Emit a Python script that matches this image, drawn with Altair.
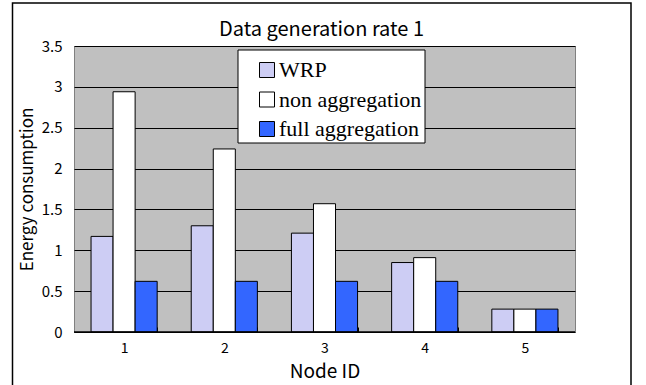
import altair as alt
import pandas as pd

# Energy consumption per node for each scheme
nodes = ["1", "2", "3", "4", "5"]
series = ["WRP", "non aggregation", "full aggregation"]
wrp = [1.17, 1.30, 1.21, 0.85, 0.28]
non_agg = [2.94, 2.24, 1.57, 0.91, 0.28]
full_agg = [0.62, 0.62, 0.62, 0.62, 0.28]
colors = ["#CDCDF4", "#FFFFFF", "#3366FF"]
y_ticks = [0, 0.5, 1, 1.5, 2, 2.5, 3, 3.5]

rows = []
for name, vals in zip(series, [wrp, non_agg, full_agg]):
    for n, v in zip(nodes, vals):
        rows.append({"node": n, "series": name, "energy": v})
df = pd.DataFrame(rows)
one = pd.DataFrame({"k": [0]})

W, H = 501, 286
SANS = "Noto Sans CJK JP"
SERIF = "Liberation Serif, Times New Roman, serif"

# outer chart frame
frame = alt.Chart(one).mark_rect(
    fillOpacity=0, stroke="black", strokeWidth=1.5
).encode(
    x=alt.value(-61.5), x2=alt.value(557), y=alt.value(-43), y2=alt.value(420)
)

bars = alt.Chart(df).mark_bar(stroke="black", strokeWidth=1).encode(
    x=alt.X(
        "node:N",
        sort=nodes,
        scale=alt.Scale(paddingInner=0.34, paddingOuter=0.17),
        axis=alt.Axis(
            title="Node ID",
            labelAngle=0,
            tickBand="extent",
            tickSize=5,
            tickColor="black",
            offset=-5,
            domain=False,
            labelPadding=9,
            labelFont=SANS,
            labelFontSize=14,
            labelColor="black",
            titleFont=SANS,
            titleFontSize=19,
            titleFontWeight="normal",
            titleColor="black",
            titleX=W / 2,
            titleY=50,
            titleBaseline="alphabetic",
        ),
    ),
    xOffset=alt.XOffset(
        "series:N", sort=series, scale=alt.Scale(paddingInner=0, paddingOuter=0)
    ),
    y=alt.Y(
        "energy:Q",
        scale=alt.Scale(domain=[0, 3.5], nice=False),
        axis=alt.Axis(
            title="Energy consumption",
            values=y_ticks,
            format=".1~f",
            domain=False,
            ticks=False,
            labelPadding=12,
            labelFont=SANS,
            labelFontSize=15,
            labelColor="black",
            gridColor="black",
            gridWidth=1,
            titleFont=SANS,
            titleFontSize=17,
            titleFontWeight="normal",
            titleColor="black",
            titleX=-47,
            titleY=H / 2,
            titleAngle=270,
            titleAlign="center",
            titleBaseline="middle",
        ),
    ),
    color=alt.Color(
        "series:N",
        sort=series,
        scale=alt.Scale(domain=series, range=colors),
        legend=alt.Legend(
            title=None,
            orient="none",
            legendX=182,
            legendY=13,
            symbolType="square",
            symbolSize=225,
            symbolStrokeColor="black",
            symbolStrokeWidth=1,
            symbolOpacity=1,
            labelFont=SERIF,
            labelFontSize=22,
            labelColor="black",
            labelOffset=1,
            rowPadding=7.5,
            padding=0,
        ),
    ),
)

# black category axis line at zero
baseline = alt.Chart(one).mark_rule(color="black", strokeWidth=1.5).encode(
    y=alt.datum(0)
)

# white legend box
legend_box = alt.Chart(one).mark_rect(
    fill="white", stroke="black", strokeWidth=1
).encode(
    x=alt.value(164), x2=alt.value(351), y=alt.value(4), y2=alt.value(97)
)

chart = alt.layer(frame, bars, baseline, legend_box).properties(
    width=W,
    height=H,
    autosize=alt.AutoSizeParams(type="none"),
    padding={"left": 74, "top": 46, "right": 71, "bottom": 53},
    background="white",
    title=alt.TitleParams(
        "Data generation rate 1",
        font=SANS,
        fontSize=20,
        fontWeight="normal",
        color="black",
        anchor="middle",
        frame="group",
        baseline="alphabetic",
        offset=9.5,
        dx=-3,
        dy=63,
    ),
).configure_view(
    fill="#C0C0C0", stroke="#808080", strokeWidth=1
)

chart.save("out.html", embed_options={"renderer": "svg", "actions": False})
